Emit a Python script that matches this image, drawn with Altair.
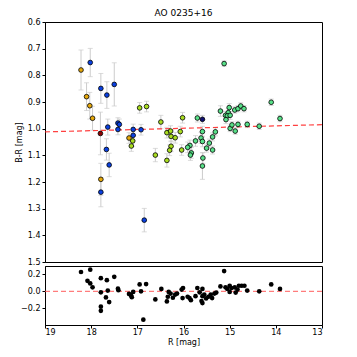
import altair as alt
import pandas as pd

# ---- top panel data: R [mag], B-R [mag], error, colour group ----
top_R = [18.22, 18.10, 18.03, 17.97, 17.79, 17.18,
         18.02, 17.79, 17.66, 17.50, 17.64, 17.42, 17.39, 17.42, 17.67, 17.09, 16.92, 17.09, 17.61, 17.79, 16.85,
         17.80, 15.59,
         17.10, 17.13, 16.95, 16.80, 16.49, 16.36, 16.28, 16.27, 16.18, 16.27, 16.30, 16.61, 16.36, 16.07, 16.04, 16.02,
         15.12, 14.10, 13.91, 14.36, 14.62, 14.82, 14.88, 14.99, 14.95, 15.20, 15.01, 15.03, 15.09, 15.05, 14.99, 15.08,
         14.89, 14.82, 14.76, 14.69, 15.70, 15.59, 15.31, 15.37, 15.44, 15.62, 15.59, 15.74, 15.50, 15.37, 15.86, 15.91,
         15.83, 15.85, 15.58, 15.59]
top_BR = [0.780, 0.880, 0.914, 0.961, 1.190, 1.035,
          0.752, 0.849, 0.874, 0.834, 0.994, 0.979, 0.984, 1.003, 1.078, 1.003, 1.004, 1.025, 1.136, 1.238, 1.343,
          1.018, 0.965,
          1.046, 1.065, 0.922, 0.917, 0.975, 1.015, 1.009, 1.029, 1.034, 1.066, 1.081, 1.099, 1.119, 1.011, 1.080, 0.959,
          0.756, 0.901, 0.962, 0.991, 0.984, 0.984, 1.009, 0.999, 0.986, 0.934, 0.921, 0.940, 0.950, 0.952, 0.950, 0.966,
          0.930, 0.925, 0.915, 0.925, 0.960, 1.011, 1.012, 1.031, 1.054, 1.035, 1.048, 1.046, 1.073, 1.080, 1.063, 1.070,
          1.091, 1.099, 1.110, 1.140]
top_err = [0.075, 0.052, 0.050, 0.045, 0.060, 0.020,
           0.053, 0.056, 0.050, 0.081, 0.030, 0.020, 0.020, 0.020, 0.040, 0.020, 0.020, 0.020, 0.044, 0.055, 0.044,
           0.080, 0.015,
           0.020, 0.020, 0.020, 0.020, 0.025, 0.020, 0.020, 0.020, 0.020, 0.020, 0.020, 0.025, 0.025, 0.020, 0.020, 0.020,
           0.010, 0.012, 0.012, 0.012, 0.012, 0.012, 0.012, 0.012, 0.012, 0.020, 0.015, 0.015, 0.015, 0.015, 0.015, 0.015,
           0.012, 0.012, 0.012, 0.012, 0.015, 0.020, 0.015, 0.015, 0.015, 0.020, 0.020, 0.020, 0.015, 0.015, 0.020, 0.020,
           0.020, 0.020, 0.020, 0.050]
top_grp = (["o"] * 6 + ["b"] * 15 + ["r", "n"] + ["yg"] * 16 + ["g"] * 36)

groups = ["o", "b", "r", "n", "yg", "g"]
group_colors = ["#e6a80a", "#0a40e0", "#8b0000", "#101070", "#a8dc20", "#58e088"]

# ---- fit line ----
fit_R = [19.0, 13.0]
fit_BR = [1.012, 0.985]

# ---- residuals ----
res_R = [18.22, 18.02, 18.08, 18.02, 17.97, 17.79, 17.66, 17.50, 17.79, 17.64, 17.68, 17.61, 17.79, 17.79,
         17.42, 17.41, 17.18, 17.14, 17.12, 17.09, 16.95, 16.92, 16.81, 16.87, 16.61, 16.48, 16.36, 16.34,
         16.32, 16.28, 16.23, 16.18, 16.14, 16.04, 16.01, 16.02, 15.91, 15.87, 15.84, 15.74, 15.70, 15.65,
         15.59, 15.59, 15.61, 15.59, 15.55, 15.51, 15.46, 15.41, 15.38, 15.33, 15.29, 15.20, 15.12, 15.09,
         15.05, 15.00, 15.00, 14.96, 14.89, 14.87, 14.83, 14.80, 14.74, 14.68, 14.62, 14.36, 14.10, 13.91]
res_val = [0.229, 0.256, 0.124, 0.093, 0.047, 0.156, 0.132, 0.171, -0.012, 0.008, -0.073, -0.128, -0.182, -0.232,
           0.031, 0.012, -0.031, -0.046, -0.070, -0.007, 0.081, 0.000, 0.086, -0.337, -0.097, 0.028, -0.120, -0.065,
           -0.007, -0.027, -0.077, -0.039, -0.027, 0.020, 0.039, -0.081, -0.065, -0.081, -0.105, -0.058, 0.039, -0.012,
           0.028, -0.058, -0.116, -0.140, -0.039, -0.085, -0.065, -0.039, -0.081, -0.027, -0.015, 0.058, 0.240, 0.047,
           0.028, 0.066, -0.007, 0.039, 0.047, -0.015, 0.020, 0.066, 0.066, 0.066, 0.008, 0.000, 0.081, 0.028]
zero_R = [19.0, 13.0]
zero_val = [0.0, 0.0]

x_ticks = [19, 18, 17, 16, 15, 14, 13]
y_ticks_top = [0.6, 0.7, 0.8, 0.9, 1.0, 1.1, 1.2, 1.3, 1.4, 1.5]
y_ticks_res = [-0.2, 0.0, 0.2]

top_df = pd.DataFrame({"R": top_R, "BR": top_BR, "err": top_err, "grp": top_grp})
top_df["lo"] = top_df["BR"] - top_df["err"]
top_df["hi"] = top_df["BR"] + top_df["err"]
fit_df = pd.DataFrame({"R": fit_R, "BR": fit_BR})
res_df = pd.DataFrame({"R": res_R, "res": res_val})
zero_df = pd.DataFrame({"R": zero_R, "res": zero_val})

W = 277
xscale = alt.Scale(domain=[13, 19], reverse=True, nice=False)
yscale_top = alt.Scale(domain=[0.6, 1.5], reverse=True, nice=False)
yscale_res = alt.Scale(domain=[-0.4, 0.3], nice=False)

y_axis_top = alt.Axis(values=y_ticks_top, format=".1f", title="B-R [mag]", tickSize=3, grid=False,
                      labelOverlap=False)

x_top = alt.X("R:Q", scale=xscale, axis=None)
y_top = alt.Y("BR:Q", scale=yscale_top, axis=y_axis_top)

base_top = alt.Chart(top_df)
rules = base_top.mark_rule(color="#cccccc", strokeWidth=1).encode(
    x=x_top, y=alt.Y("lo:Q", scale=yscale_top, axis=y_axis_top), y2="hi:Q")
cap_lo = base_top.mark_tick(color="#cccccc", orient="horizontal", size=5, thickness=1).encode(
    x=x_top, y=alt.Y("lo:Q", scale=yscale_top, axis=y_axis_top))
cap_hi = base_top.mark_tick(color="#cccccc", orient="horizontal", size=5, thickness=1).encode(
    x=x_top, y=alt.Y("hi:Q", scale=yscale_top, axis=y_axis_top))
fit_line = alt.Chart(fit_df).mark_line(color="#ff2020", strokeDash=[5, 3], strokeWidth=1.2, opacity=0.85).encode(
    x=x_top, y=y_top)
points = base_top.mark_point(filled=True, size=22, stroke="black", strokeWidth=0.8, opacity=1).encode(
    x=x_top, y=y_top,
    fill=alt.Fill("grp:N", scale=alt.Scale(domain=groups, range=group_colors), legend=None))

top = alt.layer(rules, cap_lo, cap_hi, fit_line, points).properties(
    width=W, height=240, title=alt.TitleParams("AO 0235+16", fontSize=9, font="DejaVu Sans",
                                                fontWeight="normal", offset=0))

x_res = alt.X("R:Q", scale=xscale,
              axis=alt.Axis(values=x_ticks, format="d", title="R [mag]", tickSize=3, grid=False,
                            labelPadding=0, titlePadding=2))
y_res = alt.Y("res:Q", scale=yscale_res,
              axis=alt.Axis(values=y_ticks_res, format=".1f", title=None, tickSize=3, grid=False,
                            labelOverlap=False))
zero_line = alt.Chart(zero_df).mark_line(color="#ff5050", strokeDash=[5, 3], strokeWidth=1.3, opacity=0.75).encode(
    x=x_res, y=y_res)
res_pts = alt.Chart(res_df).mark_circle(color="black", size=22, opacity=1).encode(x=x_res, y=y_res)
bottom = alt.layer(zero_line, res_pts).properties(width=W, height=59)

chart = alt.vconcat(top, bottom, spacing=4, bounds="flush").properties(
    padding={"left": 6, "top": 0, "right": 5, "bottom": 5}
).configure_view(stroke="black", strokeWidth=1).configure_axis(
    domainColor="black", tickColor="black", labelFont="DejaVu Sans", titleFont="DejaVu Sans",
    labelFontSize=8, titleFontSize=8, titleFontWeight="normal", labelColor="black", titleColor="black",
    labelPadding=2, titlePadding=4
)

chart.save("out.html", embed_options={"renderer": "svg", "actions": False})
